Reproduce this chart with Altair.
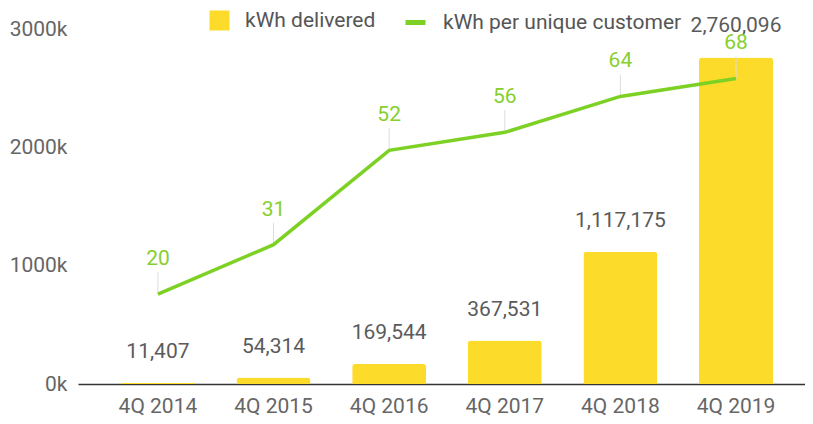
import altair as alt
import pandas as pd

quarters = ["4Q 2014", "4Q 2015", "4Q 2016", "4Q 2017", "4Q 2018", "4Q 2019"]
kwh_delivered = [11407, 54314, 169544, 367531, 1117175, 2760096]
kwh_per_customer = [20, 31, 52, 56, 64, 68]

df = pd.DataFrame({
    "quarter": quarters,
    "delivered": kwh_delivered,
    "per_customer": kwh_per_customer,
})

YELLOW = "#FDDB2B"
GREEN = "#7DD124"
LABEL_GREEN = "#86CF2E"
FONT = "Roboto"
FS = 21

x = alt.X(
    "quarter:N",
    sort=quarters,
    title=None,
    scale=alt.Scale(paddingInner=0.36, paddingOuter=0.324, align=0.573),
    axis=alt.Axis(
        labelAngle=0, labelFontSize=FS, labelColor="#666666", labelFont=FONT,
        ticks=False, domainColor="#333333", domainWidth=1.5, labelPadding=11,
    ),
)

base = alt.Chart(df)

y_bar = alt.Y(
    "delivered:Q",
    title=None,
    scale=alt.Scale(domain=[0, 3000000], nice=False),
    axis=alt.Axis(
        values=[0, 1000000, 2000000, 3000000],
        labelExpr="(datum.value / 1000) + 'k'",
        labelFontSize=FS, labelColor="#666666", labelFont=FONT,
        domain=False, ticks=False, grid=False, labelPadding=11,
        minExtent=70, maxExtent=70,
    ),
)

bars = base.mark_bar(cornerRadiusTopLeft=3, cornerRadiusTopRight=3).encode(
    x=x,
    y=y_bar,
    fill=alt.Fill(
        "series:N",
        scale=alt.Scale(domain=["kWh delivered"], range=[YELLOW]),
        legend=alt.Legend(
            orient="none", legendX=131, legendY=-19, title=None,
            symbolType="square", symbolSize=400, symbolStrokeWidth=0,
            labelFontSize=FS, labelColor="#555555", labelFont=FONT,
            labelOffset=15, padding=0, labelLimit=500,
        ),
    ),
).transform_calculate(series="'kWh delivered'")

bar_text = base.mark_text(
    dy=-25, baseline="alphabetic", fontSize=FS, color="#5a5a5a", font=FONT
).encode(
    x=x,
    y=alt.Y("delivered:Q", scale=alt.Scale(domain=[0, 3000000], nice=False)),
    text=alt.Text("delivered:Q", format=","),
)

y_line = alt.Y(
    "per_customer:Q", title=None, axis=None,
    scale=alt.Scale(domain=[0, 79], nice=False),
)

line = base.mark_line(strokeWidth=3.5).encode(
    x=x,
    y=y_line,
    stroke=alt.Stroke(
        "series2:N",
        scale=alt.Scale(domain=["kWh per unique customer"], range=[GREEN]),
        legend=alt.Legend(
            orient="none", legendX=325, legendY=-19, title=None,
            symbolType="stroke", symbolSize=400, symbolStrokeWidth=5,
            labelFontSize=FS, labelColor="#555555", labelFont=FONT,
            labelOffset=15, padding=0, labelLimit=500,
        ),
    ),
).transform_calculate(series2="'kWh per unique customer'")

leaders = base.mark_rule(color="#dddddd", strokeWidth=1, y2Offset=-22).encode(
    x=x,
    y=y_line,
    y2="per_customer:Q",
)

line_text = base.mark_text(
    dy=-35, baseline="middle", fontSize=FS, color=LABEL_GREEN, font=FONT
).encode(
    x=x,
    y=y_line,
    text="per_customer:Q",
)

bar_layer = alt.layer(bars, bar_text)
line_layer = alt.layer(leaders, line, line_text)

chart = alt.layer(bar_layer, line_layer).resolve_scale(
    y="independent", fill="independent", stroke="independent"
).properties(
    width=727,
    height=355,
    padding={"left": 70, "top": 21, "right": 0, "bottom": 32},
    autosize="none",
).configure(
    font=FONT,
    view=alt.ViewConfig(stroke="transparent", strokeWidth=0),
)

chart.save("out.html", embed_options={"renderer": "svg", "actions": False})
